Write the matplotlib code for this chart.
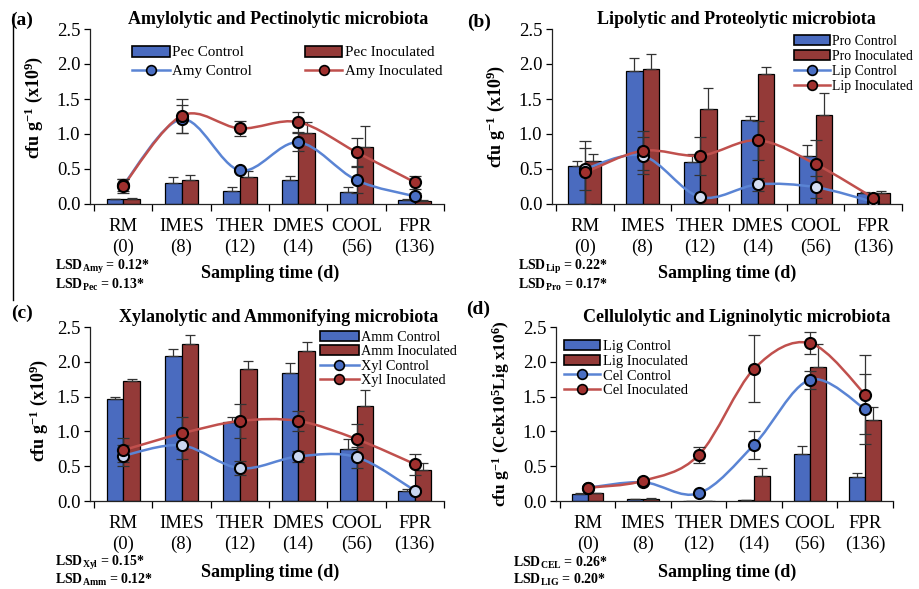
import numpy as np
import matplotlib
matplotlib.use("Agg")
import matplotlib.pyplot as plt
from matplotlib.path import Path
from matplotlib.patches import PathPatch, Patch
from matplotlib.lines import Line2D

plt.rcParams['font.family'] = ['Liberation Serif', 'DejaVu Serif']
plt.rcParams['mathtext.fontset'] = 'custom'
plt.rcParams['mathtext.rm'] = 'Liberation Serif'
plt.rcParams['mathtext.bf'] = 'Liberation Serif:bold'
plt.rcParams['mathtext.it'] = 'Liberation Serif:italic'
plt.rcParams['mathtext.default'] = 'bf'

categories = ["RM\n(0)", "IMES\n(8)", "THER\n(12)", "DMES\n(14)", "COOL\n(56)", "FPR\n(136)"]
yticks = [0.0, 0.5, 1.0, 1.5, 2.0, 2.5]

# (a) Amylolytic and Pectinolytic
pec_ctrl = [0.07, 0.30, 0.19, 0.34, 0.17, 0.06]
pec_ctrl_err = [0.00, 0.08, 0.05, 0.06, 0.07, 0.01]
pec_inoc = [0.07, 0.34, 0.39, 1.01, 0.82, 0.04]
pec_inoc_err = [0.01, 0.07, 0.08, 0.16, 0.29, 0.01]
amy_ctrl = [0.27, 1.21, 0.48, 0.88, 0.34, 0.11]
amy_ctrl_err = [0.08, 0.20, 0.03, 0.13, 0.19, 0.04]
amy_inoc = [0.26, 1.26, 1.08, 1.17, 0.74, 0.31]
amy_inoc_err = [0.10, 0.24, 0.11, 0.14, 0.20, 0.09]

# (b) Lipolytic and Proteolytic
pro_ctrl = [0.54, 1.90, 0.60, 1.20, 0.68, 0.15]
pro_ctrl_err = [0.08, 0.19, 0.12, 0.05, 0.16, 0.02]
pro_inoc = [0.62, 1.93, 1.35, 1.86, 1.27, 0.16]
pro_inoc_err = [0.10, 0.21, 0.31, 0.09, 0.31, 0.02]
lip_ctrl = [0.50, 0.69, 0.10, 0.28, 0.24, 0.03]
lip_ctrl_err = [0.30, 0.26, 0.02, 0.09, 0.16, 0.02]
lip_inoc = [0.45, 0.76, 0.69, 0.91, 0.57, 0.09]
lip_inoc_err = [0.45, 0.28, 0.27, 0.28, 0.35, 0.03]

# (c) Xylanolytic and Ammonifying
amm_ctrl = [1.46, 2.08, 1.13, 1.84, 0.75, 0.14]
amm_ctrl_err = [0.04, 0.11, 0.08, 0.14, 0.14, 0.03]
amm_inoc = [1.72, 2.26, 1.90, 2.15, 1.36, 0.45]
amm_inoc_err = [0.03, 0.12, 0.11, 0.13, 0.23, 0.10]
xyl_ctrl = [0.65, 0.80, 0.47, 0.64, 0.63, 0.15]
xyl_ctrl_err = [0.15, 0.20, 0.10, 0.08, 0.15, 0.04]
xyl_inoc = [0.73, 0.97, 1.15, 1.15, 0.89, 0.53]
xyl_inoc_err = [0.17, 0.23, 0.25, 0.14, 0.21, 0.15]

# (d) Cellulolytic and Ligninolytic
lig_ctrl = [0.10, 0.03, 0.00, 0.02, 0.67, 0.35]
lig_ctrl_err = [0.01, 0.00, 0.00, 0.00, 0.12, 0.05]
lig_inoc = [0.11, 0.03, 0.00, 0.36, 1.93, 1.17]
lig_inoc_err = [0.01, 0.01, 0.00, 0.11, 0.32, 0.18]
cel_ctrl = [0.19, 0.27, 0.11, 0.81, 1.74, 1.32]
cel_ctrl_err = [0.02, 0.02, 0.02, 0.20, 0.13, 0.50]
cel_inoc = [0.19, 0.29, 0.66, 1.90, 2.27, 1.53]
cel_inoc_err = [0.02, 0.02, 0.12, 0.48, 0.16, 0.57]

BAR_BLUE = '#4a6bbf'
BAR_RED = '#943a38'
LINE_BLUE = '#5a84d4'
LINE_RED = '#c0504d'
MK_BLUE = '#4a6fc4'
MK_RED = '#a0302e'
ERR = '#333333'

W, H = 920, 589
fig = plt.figure(figsize=(9.2, 5.89), dpi=100)


def px_axes(l, r, t, b):
    return fig.add_axes([l / W, 1 - b / H, (r - l) / W, (b - t) / H])


def smooth(ax, x, y, color):
    pts = np.column_stack([x, y]).astype(float)
    n = len(pts)
    verts = [pts[0]]
    codes = [Path.MOVETO]
    for i in range(n - 1):
        p0 = pts[max(i - 1, 0)]
        p1 = pts[i]
        p2 = pts[i + 1]
        p3 = pts[min(i + 2, n - 1)]
        c1 = p1 + (p2 - p0) / 6.0
        c2 = p2 - (p3 - p1) / 6.0
        verts += [c1, c2, p2]
        codes += [Path.CURVE4] * 3
    ax.add_patch(PathPatch(Path(verts, codes), fill=False, edgecolor=color, lw=1.8, zorder=4))


def panel(box, bar_c, bar_c_err, bar_i, bar_i_err, ln_c, ln_c_err, ln_i, ln_i_err,
          ctrl_mfc=MK_BLUE):
    ax = px_axes(*box)
    x = np.arange(len(categories))
    bw = 0.285
    ax.bar(x - bw / 2, bar_c, bw, color=BAR_BLUE, edgecolor='black', lw=0.9, zorder=2)
    ax.bar(x + bw / 2, bar_i, bw, color=BAR_RED, edgecolor='black', lw=0.9, zorder=2)
    ax.errorbar(x - bw / 2, bar_c, yerr=[np.zeros(len(x)), bar_c_err], fmt='none',
                ecolor=ERR, elinewidth=0.9, capsize=3.5, capthick=0.9, zorder=3)
    ax.errorbar(x + bw / 2, bar_i, yerr=[np.zeros(len(x)), bar_i_err], fmt='none',
                ecolor=ERR, elinewidth=0.9, capsize=3.5, capthick=0.9, zorder=3)
    smooth(ax, x, ln_c, LINE_BLUE)
    smooth(ax, x, ln_i, LINE_RED)
    ax.errorbar(x, ln_c, yerr=ln_c_err, fmt='none', ecolor=ERR, elinewidth=0.9,
                capsize=4, capthick=0.9, zorder=5)
    ax.errorbar(x, ln_i, yerr=ln_i_err, fmt='none', ecolor=ERR, elinewidth=0.9,
                capsize=4, capthick=0.9, zorder=5)
    ax.plot(x, ln_c, 'o', ms=8, mfc=ctrl_mfc, mec='black', mew=1.5, zorder=6)
    ax.plot(x, ln_i, 'o', ms=8, mfc=MK_RED, mec='black', mew=1.5, zorder=6)
    ax.set_xlim(-0.57, 5.5)
    ax.set_ylim(0, 2.5)
    ax.set_yticks(yticks)
    ax.set_yticklabels([f"{v:.1f}" for v in yticks], fontsize=13.5)
    ax.set_xticks(x)
    ax.set_xticklabels(categories, fontsize=13.5, linespacing=1.25)
    ax.set_xticks(np.arange(-0.5, 6.0, 1.0), minor=True)
    ax.tick_params(axis='x', which='major', length=0, pad=10)
    ax.tick_params(axis='x', which='minor', length=5, width=0.9, direction='out')
    ax.tick_params(axis='y', length=4, width=0.9, direction='out', pad=3)
    for s in ['top', 'right']:
        ax.spines[s].set_visible(False)
    for s in ['left', 'bottom']:
        ax.spines[s].set_linewidth(0.9)
        ax.spines[s].set_color('#222222')
    ax.set_facecolor('none')
    return ax


def handles(bar_names, line_names):
    return [Patch(facecolor=BAR_BLUE, edgecolor='black', lw=1.2, label=bar_names[0]),
            Patch(facecolor=BAR_RED, edgecolor='black', lw=1.2, label=bar_names[1]),
            Line2D([], [], color=LINE_BLUE, lw=1.8, marker='o', ms=7, mfc=MK_BLUE,
                   mec='black', mew=1.2, label=line_names[0]),
            Line2D([], [], color=LINE_RED, lw=1.8, marker='o', ms=7, mfc=MK_RED,
                   mec='black', mew=1.2, label=line_names[1])]


def fx(v):
    return v / W


def fy(v):
    return 1 - v / H


# ---- (a)
axa = panel((90, 444, 29, 204), pec_ctrl, pec_ctrl_err, pec_inoc, pec_inoc_err,
            amy_ctrl, amy_ctrl_err, amy_inoc, amy_inoc_err)
h = handles(["Pec Control", "Pec Inoculated"], ["Amy Control", "Amy Inoculated"])
order = [h[0], h[2], h[1], h[3]]
axa.legend(order, [x.get_label() for x in order],
           ncol=2, loc='upper left', bbox_to_anchor=(fx(132), fy(46)), bbox_transform=fig.transFigure,
           frameon=False, fontsize=10.8, handlelength=2.5, handletextpad=0.2,
           labelspacing=0.35, columnspacing=3.5, borderpad=0, borderaxespad=0)
axa.set_ylabel("cfu g$^{-1}$ (x10$^{9}$)", fontsize=13, fontweight='bold')
axa.yaxis.set_label_coords(-0.127, 0.55)

# ---- (b)
axb = panel((552, 902, 29, 204), pro_ctrl, pro_ctrl_err, pro_inoc, pro_inoc_err,
            lip_ctrl, lip_ctrl_err, lip_inoc, lip_inoc_err, ctrl_mfc='#d5def2')
h = handles(["Pro Control", "Pro Inoculated"], ["Lip Control", "Lip Inoculated"])
axb.legend(handles=h, loc='upper left', bbox_to_anchor=(fx(794), fy(35)), bbox_transform=fig.transFigure,
           frameon=False, fontsize=9.9, handlelength=2.6, handletextpad=0.2,
           labelspacing=0.14, borderpad=0, borderaxespad=0)
axb.set_ylabel("cfu g$^{-1}$ (x10$^{9}$)", fontsize=13, fontweight='bold')
axb.yaxis.set_label_coords(-0.129, 0.5)

# ---- (c)
axc = panel((90, 444, 327, 501), amm_ctrl, amm_ctrl_err, amm_inoc, amm_inoc_err,
            xyl_ctrl, xyl_ctrl_err, xyl_inoc, xyl_inoc_err, ctrl_mfc='#c9d6f0')
h = handles(["Amm Control", "Amm Inoculated"], ["Xyl Control", "Xyl Inoculated"])
axc.legend(handles=h, loc='upper left', bbox_to_anchor=(fx(320), fy(331)), bbox_transform=fig.transFigure,
           frameon=False, fontsize=10.3, handlelength=2.7, handletextpad=0.2,
           labelspacing=0.1, borderpad=0, borderaxespad=0)
axc.set_ylabel("cfu g$^{-1}$ (x10$^{9}$)", fontsize=13, fontweight='bold')
axc.yaxis.set_label_coords(-0.113, 0.52)

# ---- (d)
axd = panel((556, 893, 327, 501), lig_ctrl, lig_ctrl_err, lig_inoc, lig_inoc_err,
            cel_ctrl, cel_ctrl_err, cel_inoc, cel_inoc_err)
h = handles(["Lig Control", "Lig Inoculated"], ["Cel Control", "Cel Inoculated"])
axd.legend(handles=h, loc='upper left', bbox_to_anchor=(fx(564), fy(340)), bbox_transform=fig.transFigure,
           frameon=False, fontsize=10.5, handlelength=2.5, handletextpad=0.2,
           labelspacing=0.1, borderpad=0, borderaxespad=0)
axd.set_ylabel("cfu g$^{-1}$ (Celx10$^{5}$Lig x10$^{6}$)", fontsize=12.5, fontweight='bold')
axd.yaxis.set_label_coords(-0.13, 0.5)

# Titles, panel letters, x labels, LSD notes
titles = [("Amylolytic and Pectinolytic microbiota", 278, 20),
          ("Lipolytic and Proteolytic microbiota", 736, 20),
          ("Xylanolytic and Ammonifying microbiota", 279, 318),
          ("Cellulolytic and Ligninolytic microbiota", 737, 318)]
for t, x0, y0 in titles:
    fig.text(fx(x0), fy(y0), t, fontsize=13, fontweight='bold', ha='center', va='center')

letters = [("(a)", 10, 20), ("(b)", 467, 22), ("(c)", 11, 313), ("(d)", 466, 309)]
for t, x0, y0 in letters:
    fig.text(fx(x0), fy(y0), t, fontsize=14, fontweight='bold', ha='left', va='center')

for x0, y0 in [(270, 273), (727, 273), (270, 572), (727, 572)]:
    fig.text(fx(x0), fy(y0), "Sampling time (d)", fontsize=13, fontweight='bold',
             ha='center', va='center')

lsd = [("LSD$_{Amy}$ = 0.12*", 55, 267), ("LSD$_{Pec}$ = 0.13*", 55, 285),
       ("LSD$_{Lip}$ = 0.22*", 518, 267), ("LSD$_{Pro}$ = 0.17*", 518, 285),
       ("LSD$_{Xyl}$ = 0.15*", 55, 563), ("LSD$_{Amm}$ = 0.12*", 55, 580),
       ("LSD$_{CEL}$ = 0.26*", 513, 563), ("LSD$_{LIG}$ = 0.20*", 513, 580)]
for t, x0, y0 in lsd:
    fig.text(fx(x0), fy(y0), t, fontsize=10, fontweight='bold', ha='left', va='center')

# left border line
fig.add_artist(Line2D([fx(13), fx(13)], [fy(14), fy(300)], color='black', lw=1.0))

fig.savefig("out.png", dpi=100)
